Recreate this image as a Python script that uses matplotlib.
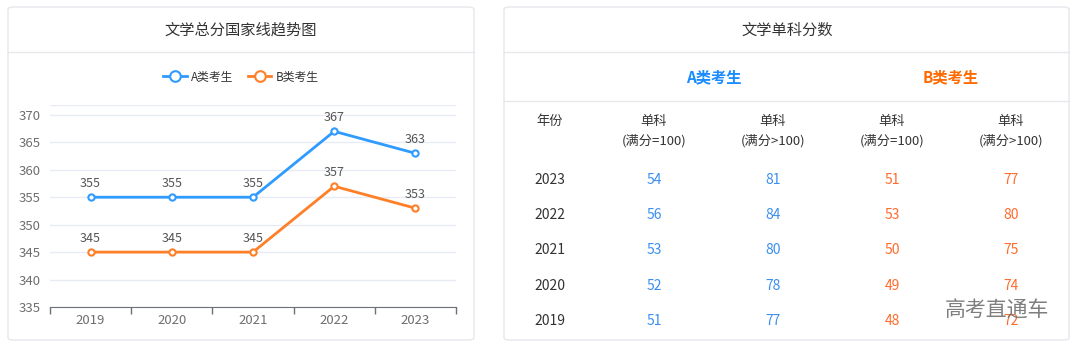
import matplotlib.pyplot as plt
import matplotlib as mpl
from matplotlib.patches import FancyBboxPatch
from matplotlib.lines import Line2D

mpl.rcParams['font.family'] = ['Noto Sans CJK SC', 'DejaVu Sans']

# ---- data ----
years = ['2019', '2020', '2021', '2022', '2023']
total_a = [355, 355, 355, 367, 363]
total_b = [345, 345, 345, 357, 353]

table_years = ['2023', '2022', '2021', '2020', '2019']
a_eq100 = [54, 56, 53, 52, 51]
a_gt100 = [81, 84, 80, 78, 77]
b_eq100 = [51, 53, 50, 49, 48]
b_gt100 = [77, 80, 75, 74, 72]

BLUE = '#2f9bff'
ORANGE = '#ff7f27'
TBLUE = '#3b8fef'
TORANGE = '#ff6b2c'
BORDER = '#e6e8ec'
TXT = '#333333'

W, H = 1080, 351
fig = plt.figure(figsize=(W / 100, H / 100), dpi=100)
fig.patch.set_facecolor('white')


def fx(x): return x / W
def fy(y): return 1 - y / H


def card(x0, y0, x1, y1):
    p = FancyBboxPatch((fx(x0), fy(y1)), fx(x1) - fx(x0), fy(y0) - fy(y1),
                       boxstyle='round,pad=0,rounding_size=0.006',
                       transform=fig.transFigure, facecolor='white',
                       edgecolor=BORDER, lw=1.0, zorder=-2)
    fig.patches.append(p)


def hline(x0, x1, y, color=BORDER, lw=1.0):
    fig.add_artist(Line2D([fx(x0), fx(x1)], [fy(y), fy(y)], color=color,
                          lw=lw, transform=fig.transFigure, zorder=-1))


def txt(x, y, s, **kw):
    kw.setdefault('ha', 'center')
    kw.setdefault('va', 'center')
    kw.setdefault('color', TXT)
    fig.text(fx(x), fy(y), s, **kw)


# ---- left card: line chart ----
card(8, 7, 474, 340)
txt(241, 30, '文学总分国家线趋势图', fontsize=11)
hline(8, 474, 52)

ax = fig.add_axes([fx(50), fy(307), fx(456) - fx(50), fy(105) - fy(307)])
ax.patch.set_alpha(0)
x = range(len(years))
ax.plot(x, total_a, color=BLUE, lw=2, marker='o', ms=4.5,
        mfc='white', mec=BLUE, mew=1.5, label='A类考生', zorder=3)
ax.plot(x, total_b, color=ORANGE, lw=2, marker='o', ms=4.5,
        mfc='white', mec=ORANGE, mew=1.5, label='B类考生', zorder=3)
for i in x:
    ax.annotate(str(total_a[i]), (i, total_a[i]), xytext=(0, 5),
                textcoords='offset points', ha='center', va='bottom',
                fontsize=9, color='#555555')
    ax.annotate(str(total_b[i]), (i, total_b[i]), xytext=(0, 5),
                textcoords='offset points', ha='center', va='bottom',
                fontsize=9, color='#555555')

ax.set_xlim(-0.5, 4.5)
ax.set_ylim(335, 371.8)
ax.set_yticks(range(335, 371, 5))
ax.set_xticks(list(x))
ax.set_xticklabels(years)
ax.set_xticks([i - 0.5 for i in range(6)], minor=True)
ax.tick_params(axis='x', which='major', length=0, pad=5, labelsize=9.5, labelcolor='#6e6e6e')
ax.tick_params(axis='x', which='minor', length=5, color='#6e7079', width=1)
ax.tick_params(axis='y', length=0, pad=7, labelsize=9.5, labelcolor='#6e6e6e')
ax.grid(axis='y', color='#e8ebf5', lw=1)
ax.axhline(371.8, color='#e8ebf5', lw=1)
for s in ['top', 'right', 'left']:
    ax.spines[s].set_visible(False)
ax.spines['bottom'].set_color('#6e7079')
ax.set_axisbelow(True)

fig.legend(loc='center', bbox_to_anchor=(fx(241), fy(77)), ncol=2, frameon=False,
           fontsize=8.5, handlelength=2.0, markerscale=1.7, columnspacing=1.2,
           handletextpad=0.4, labelcolor='#333333')

# ---- right card: table ----
card(504, 7, 1069, 340)
txt(787, 30, '文学单科分数', fontsize=11)
hline(504, 1069, 52)
txt(714, 77, 'A类考生', fontsize=11, fontweight='bold', color='#1a8cff')
txt(951, 77, 'B类考生', fontsize=11, fontweight='bold', color='#ff6a00')
hline(504, 1069, 101)

col_x = [550, 654, 773, 892, 1011]
txt(col_x[0], 122, '年份', fontsize=9.5)
sub_heads = ['(满分=100)', '(满分>100)', '(满分=100)', '(满分>100)']
for cx, sh in zip(col_x[1:], sub_heads):
    txt(cx, 122, '单科', fontsize=9.5)
    txt(cx, 141, sh, fontsize=9.5)

row_y = [180, 215, 250, 286, 321]
for ry, yr, a1, a2, b1, b2 in zip(row_y, table_years, a_eq100, a_gt100, b_eq100, b_gt100):
    txt(col_x[0], ry, yr, fontsize=10)
    txt(col_x[1], ry, str(a1), fontsize=10, color=TBLUE)
    txt(col_x[2], ry, str(a2), fontsize=10, color=TBLUE)
    txt(col_x[3], ry, str(b1), fontsize=10, color=TORANGE)
    txt(col_x[4], ry, str(b2), fontsize=10, color=TORANGE)

# watermark
txt(997, 311, '高考直通车', fontsize=15, color='#707070', alpha=0.9)

fig.savefig('out.png', dpi=100)
